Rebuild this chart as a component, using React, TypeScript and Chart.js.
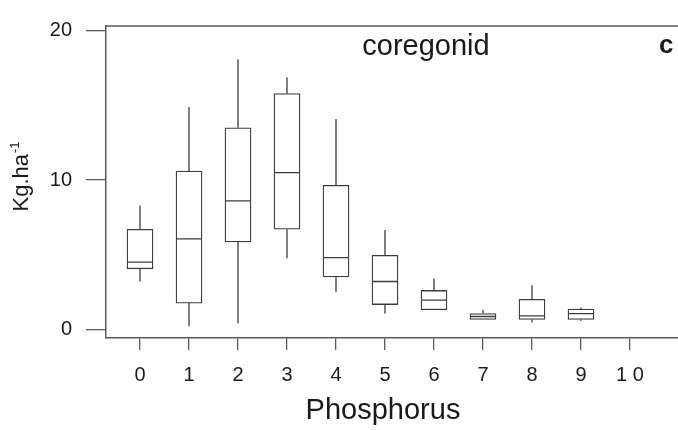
import React, { useEffect, useRef } from "react";
import { Chart, registerables } from "chart.js";

Chart.register(...registerables);

// ---- data ----
const categories = [0, 1, 2, 3, 4, 5, 6, 7, 8, 9];
const xTickValues = [0, 1, 2, 3, 4, 5, 6, 7, 8, 9, 10];
const xTickLabels = ["0", "1", "2", "3", "4", "5", "6", "7", "8", "9", "1 0"];
const yTickValues = [0, 10, 20];
const whiskerLow = [3.2, 0.2, 0.4, 4.75, 2.5, 1.05, 1.3, 0.65, 0.45, 0.55];
const q1 = [4.05, 1.75, 5.85, 6.7, 3.5, 1.65, 1.3, 0.65, 0.65, 0.65];
const median = [4.5, 6.05, 8.6, 10.5, 4.8, 3.2, 1.95, 0.85, 0.9, 1.05];
const q3 = [6.7, 10.6, 13.5, 15.8, 9.65, 4.95, 2.6, 1.05, 2.0, 1.35];
const whiskerHigh = [8.3, 14.9, 18.1, 16.9, 14.1, 6.65, 3.4, 1.3, 2.95, 1.45];

const panelTitle = "coregonid";
const panelLetter = "c";
const xTitle = "Phosphorus";
const yTitleMain = "Kg.ha";
const yTitleSup = "-1";

const FONT = "'Liberation Sans', Arial, Helvetica, sans-serif";
const AXIS_COLOR = "#5a5a5a";
const BOX_COLOR = "#3c3c3c";
const TEXT_COLOR = "#1a1a1a";

const boxParts = {
  id: "boxParts",
  afterDatasetsDraw(chart: any) {
    const { ctx, chartArea } = chart;
    const x = chart.scales.x;
    const y = chart.scales.y;
    const meta = chart.getDatasetMeta(0);
    ctx.save();
    ctx.strokeStyle = BOX_COLOR;
    ctx.lineWidth = 1.3;
    categories.forEach((c, i) => {
      const px = x.getPixelForValue(c);
      const el: any = meta.data[i];
      const half = el ? el.width / 2 : 13;
      ctx.beginPath();
      ctx.moveTo(px, y.getPixelForValue(q3[i]));
      ctx.lineTo(px, y.getPixelForValue(whiskerHigh[i]));
      ctx.moveTo(px, y.getPixelForValue(q1[i]));
      ctx.lineTo(px, y.getPixelForValue(whiskerLow[i]));
      const my = y.getPixelForValue(median[i]);
      ctx.moveTo(px - half, my);
      ctx.lineTo(px + half, my);
      ctx.stroke();
    });
    // top frame line
    ctx.strokeStyle = AXIS_COLOR;
    ctx.lineWidth = 1.5;
    ctx.beginPath();
    ctx.moveTo(chartArea.left, chartArea.top);
    ctx.lineTo(chart.width, chartArea.top);
    ctx.stroke();

    // texts
    ctx.fillStyle = TEXT_COLOR;
    ctx.textBaseline = "alphabetic";
    ctx.textAlign = "center";
    ctx.font = `29px ${FONT}`;
    ctx.fillText(panelTitle, 426, 55);
    ctx.textAlign = "left";
    ctx.font = `bold 26px ${FONT}`;
    ctx.fillText(panelLetter, 659, 53);
    ctx.textAlign = "center";
    ctx.font = `29px ${FONT}`;
    ctx.fillText(xTitle, 383, 419);

    // y title rotated with superscript
    ctx.save();
    ctx.translate(28, 177);
    ctx.rotate(-Math.PI / 2);
    ctx.textAlign = "left";
    ctx.font = `22px ${FONT}`;
    const wMain = ctx.measureText(yTitleMain).width;
    ctx.font = `13px ${FONT}`;
    const wSup = ctx.measureText(yTitleSup).width;
    const start = -(wMain + wSup) / 2;
    ctx.font = `22px ${FONT}`;
    ctx.fillText(yTitleMain, start, 0);
    ctx.font = `13px ${FONT}`;
    ctx.fillText(yTitleSup, start + wMain + 1, -9);
    ctx.restore();

    ctx.restore();
  },
};

export default function App() {
  const ref = useRef<HTMLCanvasElement | null>(null);
  useEffect(() => {
    document.body.style.margin = "0";
    const canvas = ref.current!;
    const chart = new Chart(canvas, {
      type: "bar",
      data: {
        datasets: [
          {
            data: categories.map((c, i) => ({ x: c, y: [q1[i], q3[i]] })) as any,
            backgroundColor: "#ffffff",
            borderColor: BOX_COLOR,
            borderWidth: 1.3,
            borderSkipped: false,
            barThickness: 26,
          },
        ],
      },
      options: {
        responsive: false,
        animation: false,
        layout: { padding: { top: 17, right: 0, left: 0, bottom: 0 } },
        plugins: { legend: { display: false }, tooltip: { enabled: false } },
        scales: {
          x: {
            type: "linear",
            offset: false,
            min: -0.694,
            max: 10.98,
            afterBuildTicks: (scale: any) => {
              scale.ticks = xTickValues.map((v) => ({ value: v }));
            },
            afterFit: (scale: any) => {
              scale.height = 92;
            },
            grid: {
              offset: false,
              drawOnChartArea: false,
              drawTicks: true,
              tickLength: 12,
              color: AXIS_COLOR,
              lineWidth: 1.3,
            },
            border: { display: true, color: AXIS_COLOR, width: 1.5 },
            ticks: {
              autoSkip: false,
              maxRotation: 0,
              padding: 13,
              color: TEXT_COLOR,
              font: { family: FONT, size: 20 },
              callback: (_v: any, i: number) => xTickLabels[i],
            },
          },
          y: {
            type: "linear",
            min: -0.59,
            max: 20.33,
            afterBuildTicks: (scale: any) => {
              scale.ticks = yTickValues.map((v) => ({ value: v }));
            },
            afterFit: (scale: any) => {
              scale.width = 106;
            },
            grid: {
              drawOnChartArea: false,
              drawTicks: true,
              tickLength: 20,
              color: AXIS_COLOR,
              lineWidth: 1.3,
            },
            border: { display: true, color: AXIS_COLOR, width: 1.5 },
            ticks: {
              padding: 14,
              color: TEXT_COLOR,
              font: { family: FONT, size: 20 },
              callback: (v: any) => String(v),
            },
          },
        },
      },
      plugins: [boxParts],
    });
    return () => chart.destroy();
  }, []);
  return (
    <div style={{ width: 678, height: 430 }}>
      <canvas ref={ref} width={678} height={430} style={{ display: "block" }} />
    </div>
  );
}
